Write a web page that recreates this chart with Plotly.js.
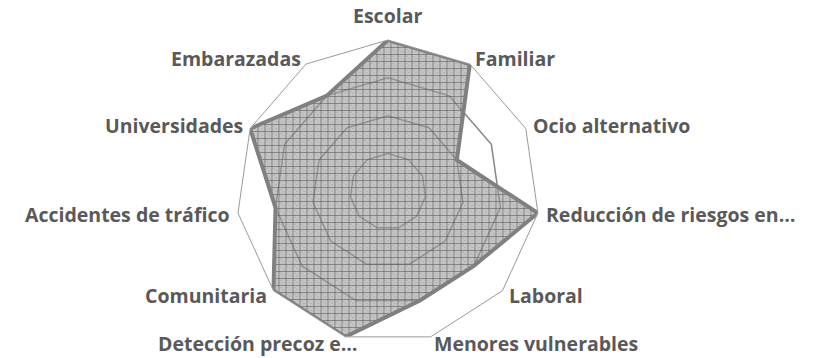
<!DOCTYPE html>
<html>
<head>
<meta charset="utf-8">
<script src="https://cdn.plot.ly/plotly-3.0.1.min.js"></script>
<style>
  html, body { margin: 0; padding: 0; background: #fff; }
  #chart { width: 823px; height: 358px; }
</style>
</head>
<body>
<div id="chart"></div>
<script>
var categories = [
  "Escolar", "Familiar", "Ocio alternativo", "Reducción de riesgos en…",
  "Laboral", "Menores vulnerables", "Detección precoz e…", "Comunitaria",
  "Accidentes de tráfico", "Universidades", "Embarazadas"
];
var values = [4, 4, 2, 4, 3, 3, 4, 4, 3, 4, 3];
var radialMax = 4;

var W = 823, H = 358;
var polarDomain = { x: [0.2873, 0.6555], y: [0.0419, 0.8883] };

// close the polygon
var theta = categories.concat([categories[0]]);
var r = values.concat([values[0]]);

var data = [{
  type: "scatterpolar",
  r: r,
  theta: theta,
  mode: "lines",
  fill: "toself",
  fillcolor: "rgba(150,150,150,0.55)",
  line: { color: "#808080", width: 4 },
  hoverinfo: "skip"
}];

// category labels placed just outside the outer ring, Excel style
var cx = (polarDomain.x[0] + polarDomain.x[1]) / 2 * W;
var cy = (1 - (polarDomain.y[0] + polarDomain.y[1]) / 2) * H;
var R = (polarDomain.x[1] - polarDomain.x[0]) / 2 * W;

var labelAnnotations = categories.map(function(name, i) {
  var a = i * 2 * Math.PI / categories.length;
  var s = Math.sin(a), c = Math.cos(a);
  var px = cx + R * s, py = cy - R * c;
  var xanchor = s > 0.05 ? "left" : (s < -0.05 ? "right" : "center");
  var yanchor = "middle";
  var ox = 7 * s, oy = -7 * c;
  if (xanchor === "center") { yanchor = "bottom"; oy = -10; }
  // bottom-left label sits a bit past its vertex in the original
  if (c < -0.9 && s < 0) ox = 14;
  return {
    text: name,
    xref: "paper", yref: "paper",
    x: (px + ox) / W,
    y: 1 - (py + oy) / H,
    xanchor: xanchor,
    yanchor: yanchor,
    showarrow: false,
    borderpad: 0,
    font: { family: "Open Sans, sans-serif", size: 19.5, weight: "bold", color: "#595959" }
  };
});

var layout = {
  width: W,
  height: H,
  margin: { l: 0, r: 0, t: 0, b: 0 },
  paper_bgcolor: "#fff",
  showlegend: false,
  annotations: labelAnnotations,
  polar: {
    domain: polarDomain,
    gridshape: "linear",
    bgcolor: "rgba(0,0,0,0)",
    radialaxis: {
      range: [0, radialMax],
      dtick: 1,
      showticklabels: false,
      ticks: "",
      showline: false,
      gridcolor: "#868686",
      gridwidth: 1.5
    },
    angularaxis: {
      rotation: 90,
      direction: "clockwise",
      showgrid: false,
      showticklabels: false,
      ticks: "",
      showline: true,
      linecolor: "#9a9a9a",
      linewidth: 1
    }
  }
};

var gd = document.getElementById("chart");
Plotly.newPlot(gd, data, layout, { displayModeBar: false, staticPlot: true }).then(function() {
  // scatterpolar has no fillpattern, so swap in a small grid texture like the original
  var ns = "http://www.w3.org/2000/svg";
  var svg = gd.querySelector("svg.main-svg");
  var defs = svg.querySelector("defs") || svg.insertBefore(document.createElementNS(ns, "defs"), svg.firstChild);
  var pat = document.createElementNS(ns, "pattern");
  pat.setAttribute("id", "gridfill");
  pat.setAttribute("width", "7");
  pat.setAttribute("height", "7");
  pat.setAttribute("patternUnits", "userSpaceOnUse");
  pat.innerHTML =
    '<rect width="7" height="7" fill="#9c9c9c" fill-opacity="0.6"/>' +
    '<rect x="2" y="2" width="1" height="1" fill="#6a6a6a" fill-opacity="0.35"/>' +
    '<rect x="4" y="4" width="1" height="1" fill="#6a6a6a" fill-opacity="0.35"/>' +
    '<path d="M0 0.5H7M0.5 0V7" stroke="#5a5a5a" stroke-opacity="0.6" stroke-width="1" fill="none"/>';
  defs.appendChild(pat);
  gd.querySelectorAll(".scatterlayer .js-fill").forEach(function(p) {
    p.style.fill = "url(#gridfill)";
    p.style.fillOpacity = 1;
  });
});
</script>
</body>
</html>
